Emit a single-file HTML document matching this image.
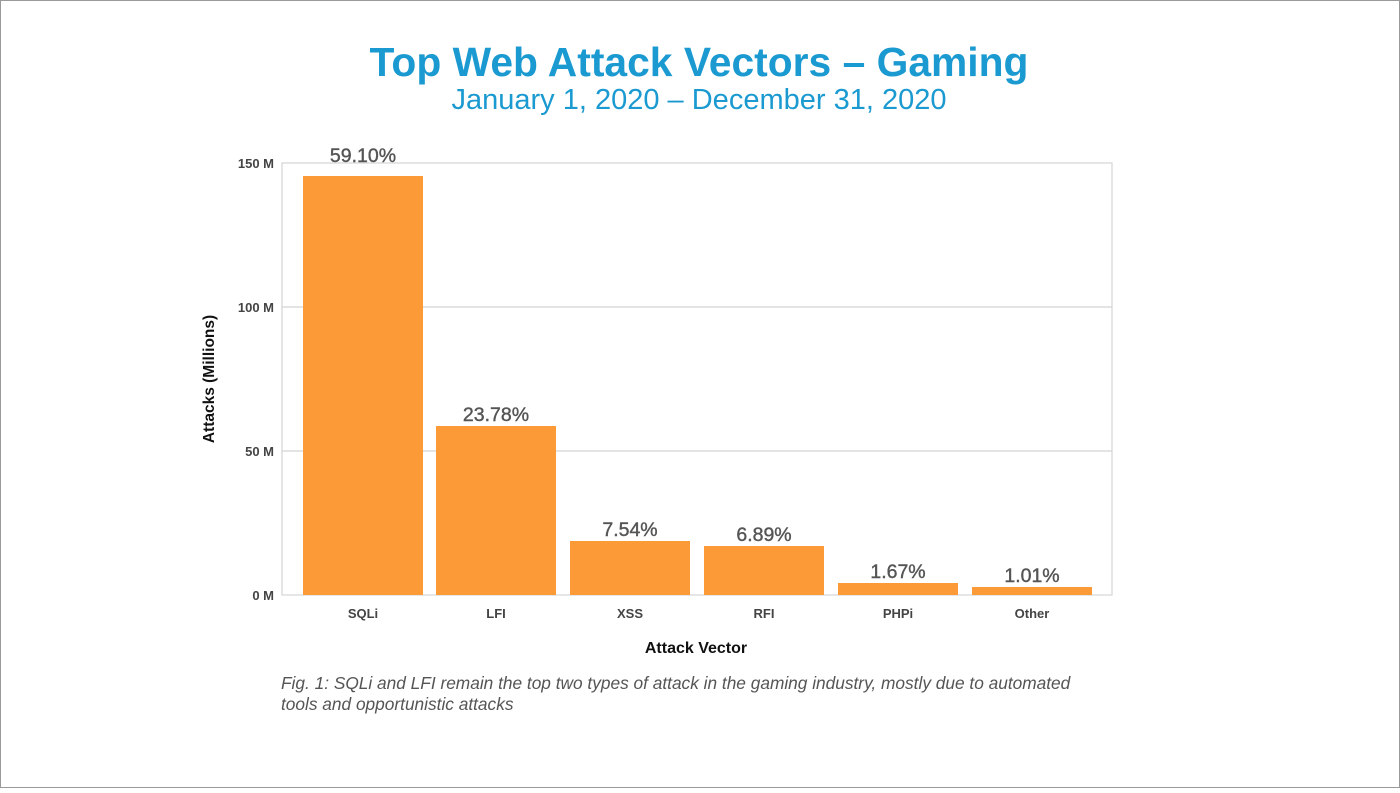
<!DOCTYPE html>
<html><head><meta charset="utf-8"><style>
html,body{margin:0;padding:0;background:#fff}
body{width:1400px;height:788px;overflow:hidden}
</style></head><body>
<svg width="1400" height="788" viewBox="0 0 1400 788" xmlns="http://www.w3.org/2000/svg" font-family="Liberation Sans, sans-serif">
<rect x="0.5" y="0.5" width="1399" height="787" fill="#fff" stroke="#9a9a9a"/>
<text x="699" y="76" text-anchor="middle" font-size="40.8" font-weight="bold" fill="#1a9ad0">Top Web Attack Vectors – Gaming</text>
<text x="699" y="109" text-anchor="middle" font-size="29" fill="#1a9ad0">January 1, 2020 – December 31, 2020</text>
<g stroke="#d4d4d4" stroke-width="1.2" fill="none">
<rect x="282" y="163" width="830" height="432"/>
<line x1="282" y1="307" x2="1112" y2="307"/>
<line x1="282" y1="451" x2="1112" y2="451"/>
</g>
<g fill="#fd9a38">
<rect x="303" y="176" width="120" height="419"/>
<rect x="436" y="426" width="120" height="169"/>
<rect x="570" y="541" width="120" height="54"/>
<rect x="704" y="546" width="120" height="49"/>
<rect x="838" y="583" width="120" height="12"/>
<rect x="972" y="587" width="120" height="8"/>
</g>
<g font-size="19.5" fill="#555" text-anchor="middle" stroke="#555" stroke-width="0.4">
<text x="363" y="162">59.10%</text>
<text x="496" y="421">23.78%</text>
<text x="630" y="536">7.54%</text>
<text x="764" y="541">6.89%</text>
<text x="898" y="578">1.67%</text>
<text x="1032" y="582">1.01%</text>
</g>
<g font-size="13" font-weight="bold" fill="#444" text-anchor="end">
<text x="274" y="168">150 M</text>
<text x="274" y="312">100 M</text>
<text x="274" y="456">50 M</text>
<text x="274" y="600">0 M</text>
</g>
<g font-size="13" font-weight="bold" fill="#444" text-anchor="middle">
<text x="363" y="618">SQLi</text>
<text x="496" y="618">LFI</text>
<text x="630" y="618">XSS</text>
<text x="764" y="618">RFI</text>
<text x="898" y="618">PHPi</text>
<text x="1032" y="618">Other</text>
</g>
<text x="696" y="653" text-anchor="middle" font-size="16" font-weight="bold" fill="#111">Attack Vector</text>
<text transform="translate(214,379) rotate(-90)" text-anchor="middle" font-size="15.5" font-weight="bold" fill="#111">Attacks (Millions)</text>
<text x="281" y="689" font-size="17.3" font-style="italic" fill="#555">Fig. 1: SQLi and LFI remain the top two types of attack in the gaming industry, mostly due to automated</text>
<text x="281" y="710" font-size="17.3" font-style="italic" fill="#555">tools and opportunistic attacks</text>
</svg>
</body></html>
